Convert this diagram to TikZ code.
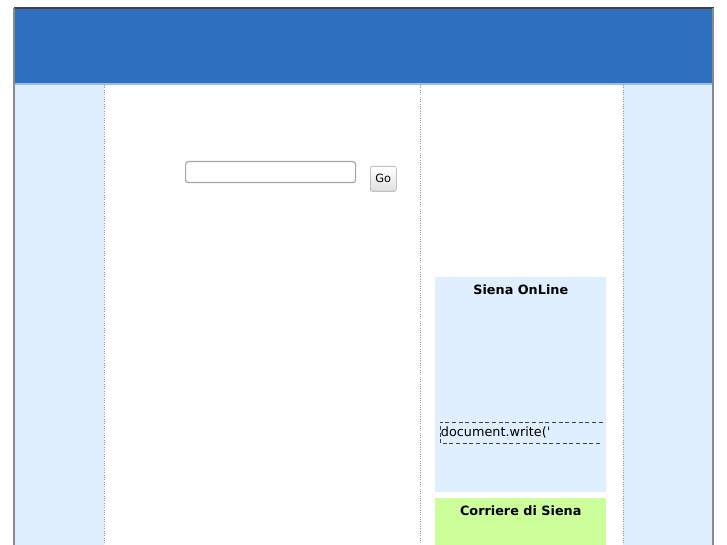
\documentclass[tikz,border=0pt]{standalone}
\usepackage{fontspec}
\setmainfont{DejaVu Sans}
\newfontfamily\plainfont{DejaVu Sans}
\usepackage{tikz}

\definecolor{headblue}{HTML}{2E6FBF}
\definecolor{paleblue}{HTML}{E0EFFF}
\definecolor{palegreen}{HTML}{CCFF99}
\definecolor{framegray}{HTML}{8A8A8A}

\begin{document}
\begin{tikzpicture}[x=0.75pt,y=-0.75pt,
  colsep/.style={draw=gray!80, densely dotted, line width=0.75pt},
  boxtitle/.style={font=\fontsize{9.6}{11}\selectfont\bfseries, anchor=north},
  box/.style={anchor=north west, inner sep=0pt, minimum width=128.25pt, minimum height=#1}]

  \useasboundingbox (0,0) rectangle (727,545);

  % columns
  \fill [paleblue] (14,84) rectangle (104,545);
  \fill [paleblue] (623,84) rectangle (712,545);
  \draw [colsep] (104,85) -- (104,545);
  \draw [colsep] (420,85) -- (420,545);
  \draw [colsep] (623,85) -- (623,545);

  % header
  \node (head) at (13.5,7.5) [anchor=north west, inner sep=0pt, fill=headblue,
        draw=black!75, line width=0.9pt, minimum width=524.25pt, minimum height=57pt] {};
  \draw [paleblue!60!headblue, line width=1pt] (14,84) -- (712,84);
  \draw [framegray, line width=1.5pt] (13.5,8) -- (13.5,545);
  \draw [framegray, line width=1.5pt] (712.5,8) -- (712.5,545);

  % search
  \node (search) at (185,161) [anchor=north west, inner sep=0pt, draw=gray!70,
        line width=0.9pt, rounded corners=2pt, minimum width=127.5pt, minimum height=15.75pt] {};
  \node (go) at (370,166) [anchor=north west, inner sep=0pt, draw=gray!70,
        top color=white, bottom color=gray!25, rounded corners=1.5pt,
        minimum width=19.5pt, minimum height=18.75pt,
        font=\fontsize{8.5}{10}\selectfont] {Go};

  % right boxes
  \node (online) at (435,277) [box=161.25pt, fill=paleblue] {};
  \node (onlinetitle) at (online.north) [boxtitle, yshift=-2.2pt] {Siena OnLine};
  \node (docwrite) at (440,422) [anchor=north west, inner sep=0pt,
        minimum width=121.5pt, minimum height=15.75pt] {};
  \draw [densely dashed, black!75] (docwrite.north east) -- (docwrite.north west)
        -- (docwrite.south west) -- (docwrite.south east);
  \node at (docwrite.west) [anchor=west, inner sep=0.5pt,
        font=\plainfont\fontsize{9.6}{12}\selectfont] {document.write('};
  \node (corriere) at (435,498) [box=35.25pt, fill=palegreen] {};
  \node (corrieretitle) at (corriere.north) [boxtitle, yshift=-2.2pt] {Corriere di Siena};
\end{tikzpicture}
\end{document}
